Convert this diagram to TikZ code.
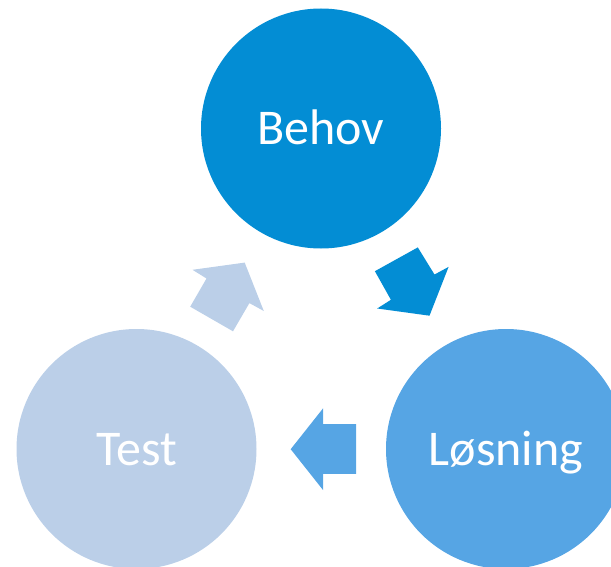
\documentclass[tikz,border=0pt]{standalone}
\usepackage{fontspec}
\setmainfont{Carlito}
\definecolor{cBehov}{HTML}{038DD4}
\definecolor{cLosning}{HTML}{56A5E4}
\definecolor{cTest}{HTML}{BBCFE8}
\tikzset{
  phase/.style={circle, minimum size=240pt, inner sep=0pt, text=white,
    font=\fontsize{50}{56}\selectfont, text height=32pt, text depth=0pt},
  blockarrow/.style={draw=none}
}
\begin{document}
\begin{tikzpicture}[x=1pt,y=-1pt]
\useasboundingbox (0,0) rectangle (611,567);
\clip (0,0) rectangle (611,567);
\node[phase, fill=cBehov] (behov) at (321,128.5) {Behov};
\node[phase, fill=cLosning] (losning) at (506,449) {Løsning};
\node[phase, fill=cTest] (test) at (136.5,449) {Test};
% Behov -> Losning
\fill[blockarrow, cBehov] (374.9,271.2) -- (417.8,247.4) -- (434.5,274.5) -- (448.6,266.9) -- (429.5,315.7) -- (377.2,308.5) -- (390.9,299.8) -- cycle;
% Losning -> Test
\fill[blockarrow, cLosning] (356.2,424.2) -- (323.1,424.2) -- (323.1,408.3) -- (290.7,449.2) -- (323.1,490.1) -- (323.1,473.8) -- (356.2,473.8) -- cycle;
% Test -> Behov
\fill[blockarrow, cTest] (190.2,306.7) -- (206.5,278.5) -- (192.5,269.8) -- (244.7,262.6) -- (263.8,311.0) -- (249.4,303.1) -- (233.0,331.3) -- cycle;
\end{tikzpicture}
\end{document}
